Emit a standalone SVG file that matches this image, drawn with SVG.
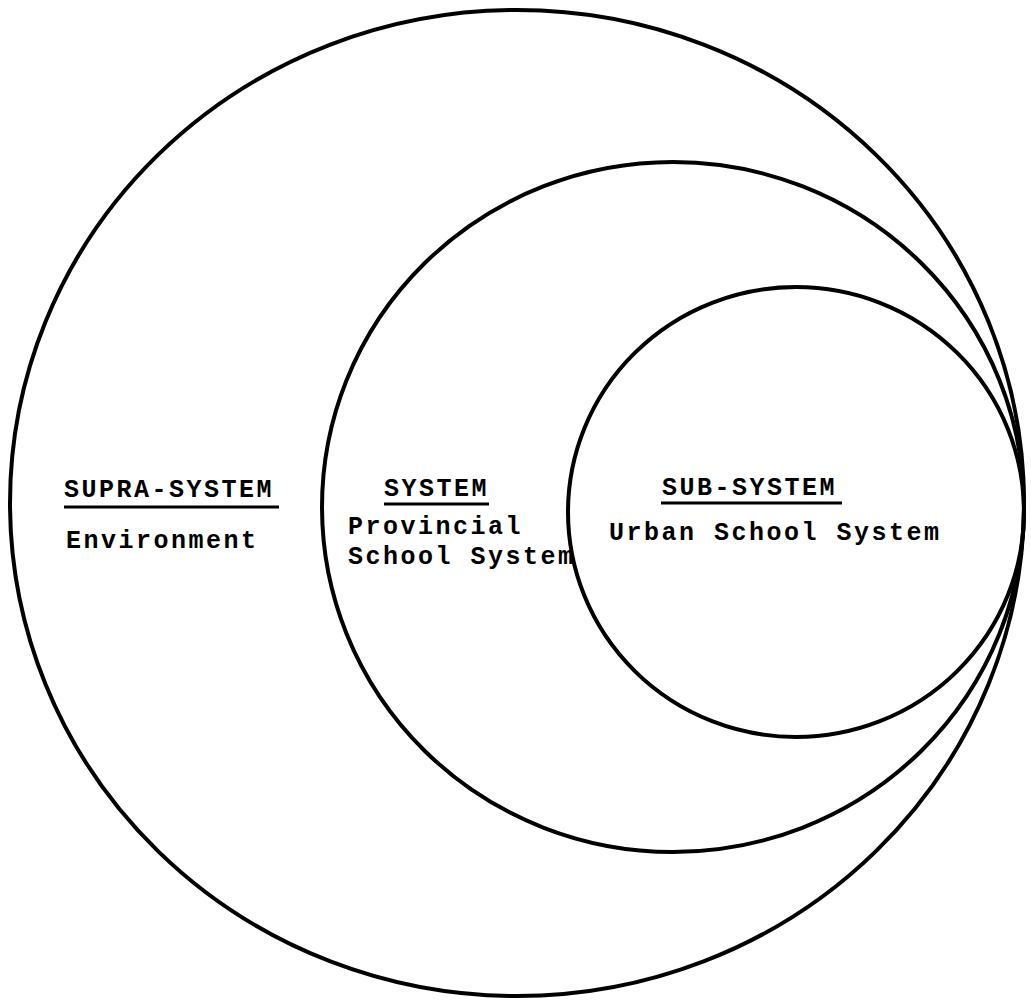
<svg xmlns="http://www.w3.org/2000/svg" width="1031" height="1000" viewBox="0 0 1031 1000">
<style>
.ring{fill:none;stroke:#000;stroke-width:4}
.t{font-family:"Liberation Mono","DejaVu Sans Mono",monospace;font-size:25px;font-weight:bold;letter-spacing:2.5px;fill:#000}
.ul{stroke:#000;stroke-width:3}
</style>
<rect width="1031" height="1000" fill="#fff"/>
<g id="supra-system">
<ellipse class="ring" cx="517" cy="503" rx="507" ry="493"/>
<text class="t" x="64" y="497">SUPRA-SYSTEM</text>
<line class="ul" x1="64" y1="507" x2="279" y2="507"/>
<text class="t" x="66" y="548">Environment</text>
</g>
<g id="system">
<ellipse class="ring" cx="673" cy="507" rx="351" ry="345"/>
<text class="t" x="384" y="496">SYSTEM</text>
<line class="ul" x1="384" y1="504" x2="489" y2="504"/>
<text class="t" x="348" y="534">Provincial</text>
<text class="t" x="348" y="564">School System</text>
</g>
<g id="sub-system">
<ellipse class="ring" cx="796" cy="512" rx="228" ry="225"/>
<text class="t" x="662" y="495">SUB-SYSTEM</text>
<line class="ul" x1="661" y1="503" x2="842" y2="503"/>
<text class="t" x="609" y="540">Urban School System</text>
</g>
<g id="connectors"></g>
</svg>
